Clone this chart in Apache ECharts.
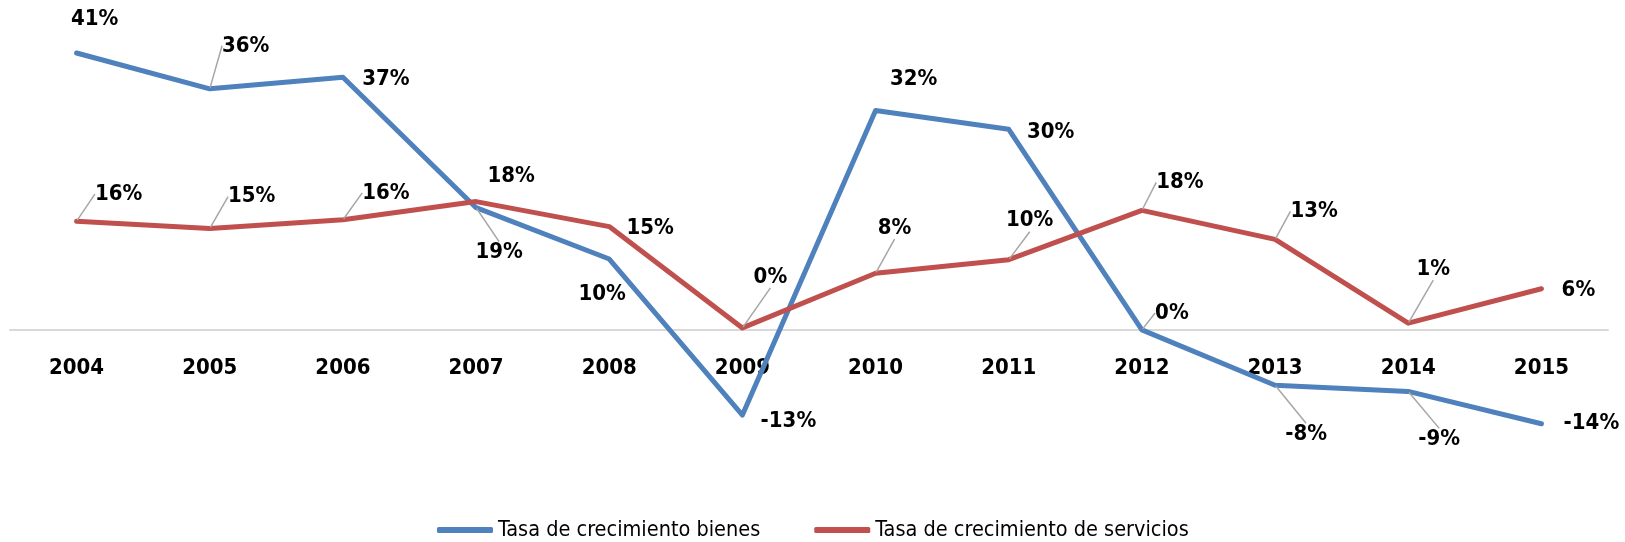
<!DOCTYPE html>
<html>
<head>
<meta charset="utf-8">
<script src="https://cdn.jsdelivr.net/npm/echarts@6/dist/echarts.min.js"></script>
<style>
  html, body { margin: 0; padding: 0; background: #fff; }
  #graph { width: 1625px; height: 542px; }
</style>
</head>
<body>
<div id="graph"></div>
<script>
var years = ['2004','2005','2006','2007','2008','2009','2010','2011','2012','2013','2014','2015'];
var bienes = [41, 35.7, 37.4, 18.1, 10.5, -12.6, 32.5, 29.7, 0, -8.2, -9.1, -13.9];
var servicios = [16.1, 15.0, 16.3, 19.0, 15.3, 0.3, 8.4, 10.4, 17.7, 13.4, 1.0, 6.1];
var bienesText = ['41%','36%','37%','19%','10%','-13%','32%','30%','0%','-8%','-9%','-14%'];
var serviciosText = ['16%','15%','16%','18%','15%','0%','8%','10%','18%','13%','1%','6%'];
var seriesNames = ['Tasa de crecimiento bienes', 'Tasa de crecimiento de servicios'];

// where each label sits relative to its point, and whether it has a leader line
var bienesOff = [[18,-34],[36,-43],[43,2],[23,45],[-7,35],[46,6],[38,-31],[42,3],[30,-17],[31,49],[31,48],[50,-1]];
var serviciosOff = [[42,-27],[42,-32],[43,-27],[35,-25],[41,2],[28,-51],[19,-45],[21,-39],[38,-28],[39,-28],[25,-54],[37,2]];
var bienesLead = [0,1,0,1,0,0,0,0,1,1,1,0];
var serviciosLead = [1,1,1,0,0,1,1,1,1,1,1,0];

var font = "'Liberation Sans Narrow', 'DejaVu Sans Condensed', sans-serif";

function buildData(vals, lead) {
    return vals.map(function (v, i) {
        return { value: v, labelLine: { show: !!lead[i] } };
    });
}

function lineSeries(name, vals, texts, offs, lead, color) {
    return {
        name: name,
        type: 'line',
        data: buildData(vals, lead),
        symbol: 'circle',
        symbolSize: 2,
        itemStyle: { color: color },
        lineStyle: { color: color, width: 5, cap: 'round', join: 'round' },
        label: {
            show: true,
            position: 'inside',
            fontFamily: font,
            fontWeight: 'bold',
            fontSize: 22,
            color: '#000',
            formatter: function (p) { return texts[p.dataIndex]; }
        },
        labelLine: {
            show: false,
            lineStyle: { color: '#a6a6a6', width: 1.5 }
        },
        labelLayout: function (p) {
            var o = offs[p.dataIndex];
            return { dx: o[0], dy: o[1] };
        },
        emphasis: { disabled: true },
        animation: false
    };
}

var myChart = echarts.init(document.getElementById('graph'));

var option = {
    backgroundColor: '#fff',
    grid: { left: 10, right: 17, top: 26, bottom: 77 },
    legend: {
        data: [
            { name: seriesNames[0], icon: 'roundRect' },
            { name: seriesNames[1], icon: 'roundRect' }
        ],
        left: 432,
        top: 514,
        itemWidth: 56,
        itemHeight: 6,
        itemGap: 54,
        textStyle: { fontFamily: font, fontSize: 21.5, color: '#000' }
    },
    xAxis: {
        type: 'category',
        data: years,
        axisLine: { show: true, onZero: true, lineStyle: { color: '#d9d9d9', width: 2 } },
        axisTick: { show: false },
        // labels sit just under the zero line, not at the grid bottom
        axisLabel: { fontFamily: font, fontWeight: 'bold', fontSize: 22, color: '#000', margin: -108 }
    },
    yAxis: {
        type: 'value',
        min: -20,
        max: 45,
        show: false,
        splitLine: { show: false }
    },
    series: [
        lineSeries(seriesNames[0], bienes, bienesText, bienesOff, bienesLead, '#4f81bd'),
        lineSeries(seriesNames[1], servicios, serviciosText, serviciosOff, serviciosLead, '#c0504d')
    ]
};

myChart.setOption(option);
</script>
</body>
</html>
